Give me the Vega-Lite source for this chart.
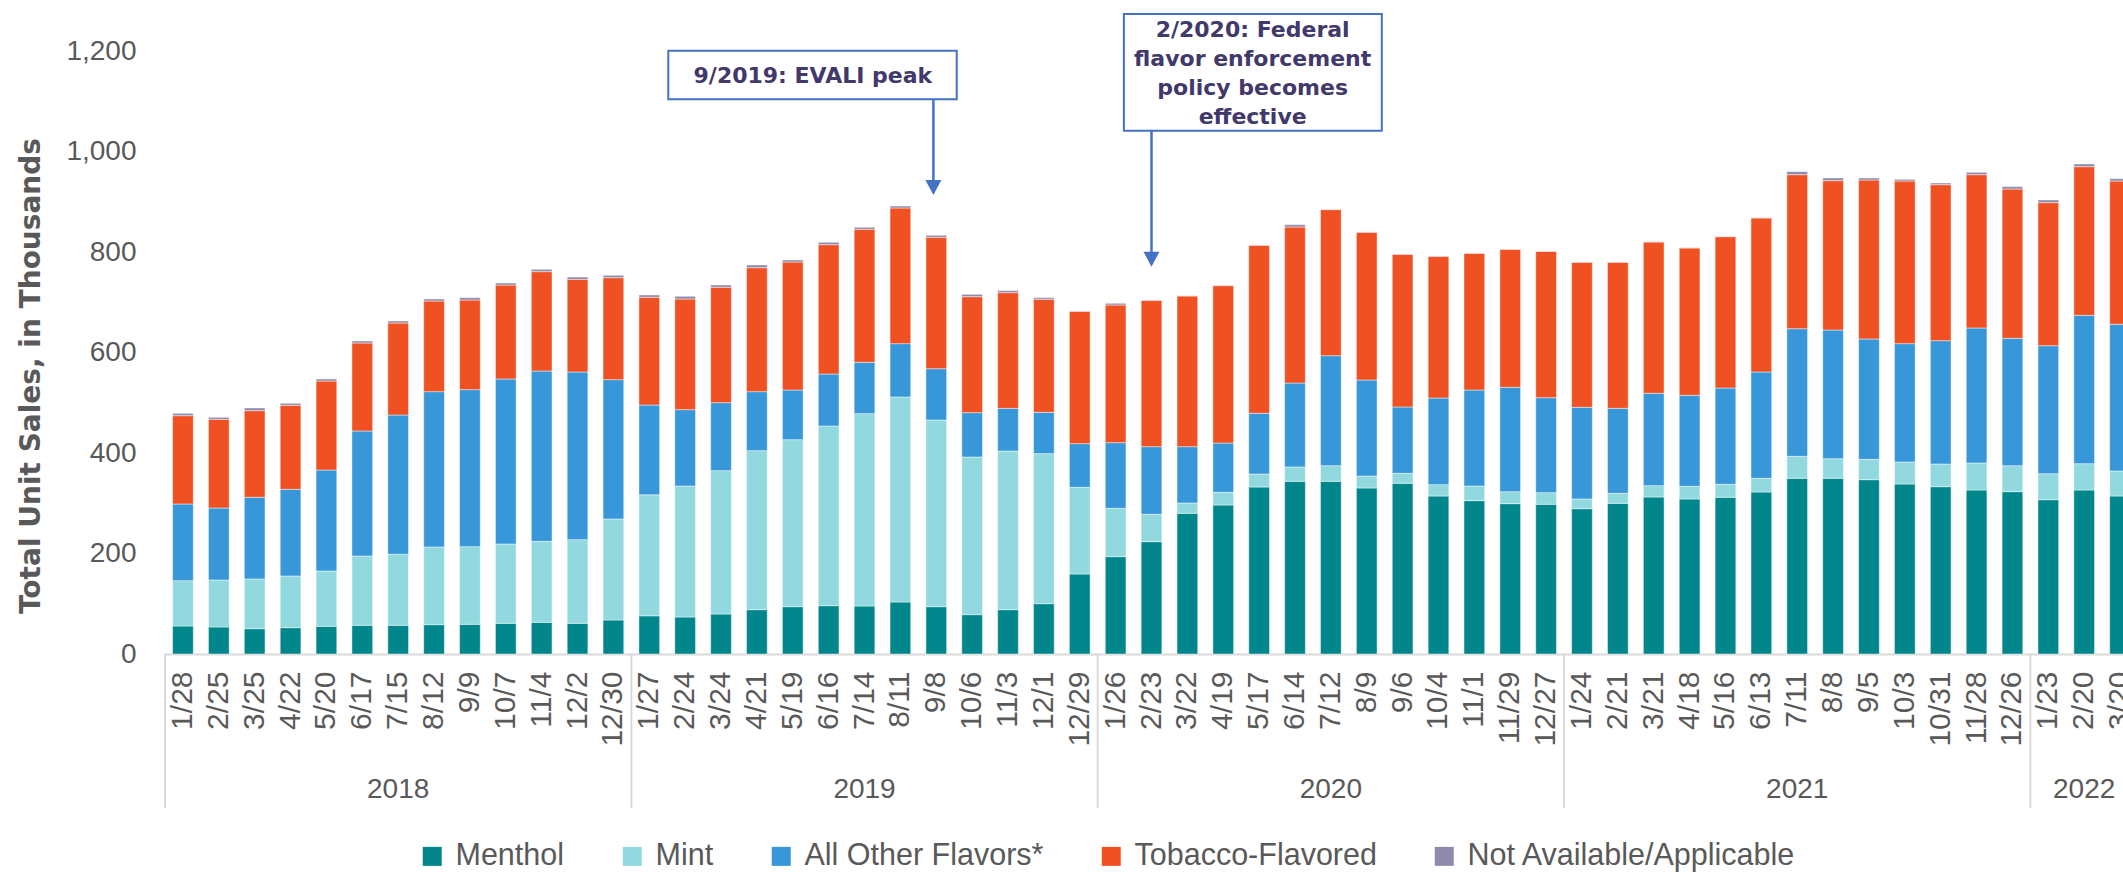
{
  "$schema": "https://vega.github.io/schema/vega-lite/v6.json",
  "usermeta": {"embedOptions": {"actions": false}},
  "autosize": {"type": "none"},
  "width": 1958,
  "height": 603,
  "padding": {"left": 165, "top": 51, "right": 0, "bottom": 218},
  "background": "white",
  "config": {"view": {"stroke": null}, "font": "Liberation Sans"},
  "datasets": {
    "sales": [
      {"week": "2018-01-28", "Menthol": 55.7, "Mint": 90.2, "All Other Flavors*": 152.6, "Tobacco-Flavored": 175.8, "Not Available/Applicable": 4.6},
      {"week": "2018-02-25", "Menthol": 53.8, "Mint": 93.5, "All Other Flavors*": 143.3, "Tobacco-Flavored": 176.4, "Not Available/Applicable": 4.0},
      {"week": "2018-03-25", "Menthol": 50.4, "Mint": 98.9, "All Other Flavors*": 162.5, "Tobacco-Flavored": 172.5, "Not Available/Applicable": 5.3},
      {"week": "2018-04-22", "Menthol": 52.4, "Mint": 102.8, "All Other Flavors*": 172.5, "Tobacco-Flavored": 167.2, "Not Available/Applicable": 4.0},
      {"week": "2018-05-20", "Menthol": 55.1, "Mint": 110.1, "All Other Flavors*": 201.0, "Tobacco-Flavored": 177.1, "Not Available/Applicable": 4.0},
      {"week": "2018-06-17", "Menthol": 57.1, "Mint": 137.9, "All Other Flavors*": 248.8, "Tobacco-Flavored": 175.1, "Not Available/Applicable": 4.0},
      {"week": "2018-07-15", "Menthol": 57.1, "Mint": 141.3, "All Other Flavors*": 277.2, "Tobacco-Flavored": 183.1, "Not Available/Applicable": 4.0},
      {"week": "2018-08-12", "Menthol": 58.4, "Mint": 154.6, "All Other Flavors*": 309.1, "Tobacco-Flavored": 180.4, "Not Available/Applicable": 4.0},
      {"week": "2018-09-09", "Menthol": 59.1, "Mint": 154.5, "All Other Flavors*": 312.5, "Tobacco-Flavored": 178.4, "Not Available/Applicable": 4.6},
      {"week": "2018-10-07", "Menthol": 61.1, "Mint": 157.8, "All Other Flavors*": 328.4, "Tobacco-Flavored": 187.0, "Not Available/Applicable": 4.0},
      {"week": "2018-11-04", "Menthol": 63.0, "Mint": 161.2, "All Other Flavors*": 339.0, "Tobacco-Flavored": 197.7, "Not Available/Applicable": 4.6},
      {"week": "2018-12-02", "Menthol": 61.1, "Mint": 166.5, "All Other Flavors*": 333.6, "Tobacco-Flavored": 184.4, "Not Available/Applicable": 4.6},
      {"week": "2018-12-30", "Menthol": 67.7, "Mint": 201.0, "All Other Flavors*": 277.3, "Tobacco-Flavored": 202.9, "Not Available/Applicable": 4.7},
      {"week": "2019-01-27", "Menthol": 76.0, "Mint": 240.8, "All Other Flavors*": 178.7, "Tobacco-Flavored": 214.4, "Not Available/Applicable": 4.5},
      {"week": "2019-02-24", "Menthol": 73.6, "Mint": 260.7, "All Other Flavors*": 152.0, "Tobacco-Flavored": 220.2, "Not Available/Applicable": 5.3},
      {"week": "2019-03-24", "Menthol": 79.6, "Mint": 285.3, "All Other Flavors*": 135.3, "Tobacco-Flavored": 229.5, "Not Available/Applicable": 4.6},
      {"week": "2019-04-21", "Menthol": 88.2, "Mint": 316.5, "All Other Flavors*": 117.4, "Tobacco-Flavored": 246.7, "Not Available/Applicable": 5.3},
      {"week": "2019-05-19", "Menthol": 94.2, "Mint": 332.4, "All Other Flavors*": 98.8, "Tobacco-Flavored": 254.7, "Not Available/Applicable": 4.0},
      {"week": "2019-06-16", "Menthol": 96.2, "Mint": 357.6, "All Other Flavors*": 103.4, "Tobacco-Flavored": 257.4, "Not Available/Applicable": 4.7},
      {"week": "2019-07-14", "Menthol": 95.5, "Mint": 382.8, "All Other Flavors*": 102.2, "Tobacco-Flavored": 264.6, "Not Available/Applicable": 4.0},
      {"week": "2019-08-11", "Menthol": 103.5, "Mint": 408.0, "All Other Flavors*": 106.1, "Tobacco-Flavored": 270.0, "Not Available/Applicable": 3.9},
      {"week": "2019-09-08", "Menthol": 94.2, "Mint": 371.5, "All Other Flavors*": 102.1, "Tobacco-Flavored": 261.4, "Not Available/Applicable": 4.0},
      {"week": "2019-10-06", "Menthol": 78.3, "Mint": 313.8, "All Other Flavors*": 88.2, "Tobacco-Flavored": 230.8, "Not Available/Applicable": 4.7},
      {"week": "2019-11-03", "Menthol": 88.2, "Mint": 315.8, "All Other Flavors*": 84.9, "Tobacco-Flavored": 230.2, "Not Available/Applicable": 4.0},
      {"week": "2019-12-01", "Menthol": 100.2, "Mint": 298.5, "All Other Flavors*": 82.2, "Tobacco-Flavored": 224.9, "Not Available/Applicable": 3.3},
      {"week": "2019-12-29", "Menthol": 159.2, "Mint": 172.5, "All Other Flavors*": 86.9, "Tobacco-Flavored": 263.3, "Not Available/Applicable": 0.8},
      {"week": "2020-01-26", "Menthol": 193.7, "Mint": 96.2, "All Other Flavors*": 130.7, "Tobacco-Flavored": 273.9, "Not Available/Applicable": 3.4},
      {"week": "2020-02-23", "Menthol": 223.6, "Mint": 54.4, "All Other Flavors*": 134.6, "Tobacco-Flavored": 291.2, "Not Available/Applicable": 0.7},
      {"week": "2020-03-22", "Menthol": 279.9, "Mint": 20.6, "All Other Flavors*": 112.1, "Tobacco-Flavored": 299.9, "Not Available/Applicable": 0.6},
      {"week": "2020-04-19", "Menthol": 296.5, "Mint": 25.2, "All Other Flavors*": 98.2, "Tobacco-Flavored": 313.1, "Not Available/Applicable": 1.0},
      {"week": "2020-05-17", "Menthol": 332.4, "Mint": 25.8, "All Other Flavors*": 120.8, "Tobacco-Flavored": 334.3, "Not Available/Applicable": 0.8},
      {"week": "2020-06-14", "Menthol": 343.6, "Mint": 28.6, "All Other Flavors*": 167.1, "Tobacco-Flavored": 310.5, "Not Available/Applicable": 4.6},
      {"week": "2020-07-12", "Menthol": 343.6, "Mint": 31.2, "All Other Flavors*": 218.9, "Tobacco-Flavored": 290.6, "Not Available/Applicable": 0.7},
      {"week": "2020-08-09", "Menthol": 330.4, "Mint": 23.8, "All Other Flavors*": 191.1, "Tobacco-Flavored": 293.9, "Not Available/Applicable": 0.7},
      {"week": "2020-09-06", "Menthol": 339.7, "Mint": 19.8, "All Other Flavors*": 132.1, "Tobacco-Flavored": 303.8, "Not Available/Applicable": 0.6},
      {"week": "2020-10-04", "Menthol": 314.4, "Mint": 22.6, "All Other Flavors*": 172.5, "Tobacco-Flavored": 281.9, "Not Available/Applicable": 0.6},
      {"week": "2020-11-01", "Menthol": 305.2, "Mint": 29.1, "All Other Flavors*": 191.1, "Tobacco-Flavored": 272.0, "Not Available/Applicable": 0.6},
      {"week": "2020-11-29", "Menthol": 299.2, "Mint": 23.9, "All Other Flavors*": 207.6, "Tobacco-Flavored": 274.6, "Not Available/Applicable": 0.6},
      {"week": "2020-12-27", "Menthol": 297.9, "Mint": 23.2, "All Other Flavors*": 189.0, "Tobacco-Flavored": 291.2, "Not Available/Applicable": 0.6},
      {"week": "2021-01-24", "Menthol": 289.2, "Mint": 19.3, "All Other Flavors*": 182.4, "Tobacco-Flavored": 288.6, "Not Available/Applicable": 0.6},
      {"week": "2021-02-21", "Menthol": 299.8, "Mint": 19.9, "All Other Flavors*": 169.2, "Tobacco-Flavored": 290.6, "Not Available/Applicable": 0.6},
      {"week": "2021-03-21", "Menthol": 312.5, "Mint": 22.5, "All Other Flavors*": 183.8, "Tobacco-Flavored": 301.1, "Not Available/Applicable": 0.6},
      {"week": "2021-04-18", "Menthol": 308.5, "Mint": 25.2, "All Other Flavors*": 181.1, "Tobacco-Flavored": 293.2, "Not Available/Applicable": 0.6},
      {"week": "2021-05-16", "Menthol": 311.8, "Mint": 25.9, "All Other Flavors*": 191.7, "Tobacco-Flavored": 301.1, "Not Available/Applicable": 0.6},
      {"week": "2021-06-13", "Menthol": 322.4, "Mint": 27.2, "All Other Flavors*": 211.6, "Tobacco-Flavored": 306.5, "Not Available/Applicable": 0.6},
      {"week": "2021-07-11", "Menthol": 349.6, "Mint": 43.8, "All Other Flavors*": 254.0, "Tobacco-Flavored": 306.5, "Not Available/Applicable": 6.0},
      {"week": "2021-08-08", "Menthol": 349.6, "Mint": 39.1, "All Other Flavors*": 256.1, "Tobacco-Flavored": 297.2, "Not Available/Applicable": 5.3},
      {"week": "2021-09-05", "Menthol": 346.9, "Mint": 40.5, "All Other Flavors*": 239.5, "Tobacco-Flavored": 316.4, "Not Available/Applicable": 4.0},
      {"week": "2021-10-03", "Menthol": 338.3, "Mint": 43.8, "All Other Flavors*": 235.5, "Tobacco-Flavored": 323.7, "Not Available/Applicable": 3.3},
      {"week": "2021-10-31", "Menthol": 333.0, "Mint": 45.1, "All Other Flavors*": 245.5, "Tobacco-Flavored": 310.4, "Not Available/Applicable": 3.3},
      {"week": "2021-11-28", "Menthol": 326.4, "Mint": 53.7, "All Other Flavors*": 268.7, "Tobacco-Flavored": 305.1, "Not Available/Applicable": 4.7},
      {"week": "2021-12-26", "Menthol": 323.1, "Mint": 51.7, "All Other Flavors*": 253.4, "Tobacco-Flavored": 297.2, "Not Available/Applicable": 4.7},
      {"week": "2022-01-23", "Menthol": 307.1, "Mint": 51.8, "All Other Flavors*": 254.7, "Tobacco-Flavored": 284.6, "Not Available/Applicable": 5.3},
      {"week": "2022-02-20", "Menthol": 326.4, "Mint": 52.4, "All Other Flavors*": 295.2, "Tobacco-Flavored": 295.8, "Not Available/Applicable": 5.3},
      {"week": "2022-03-20", "Menthol": 314.4, "Mint": 49.8, "All Other Flavors*": 291.9, "Tobacco-Flavored": 285.2, "Not Available/Applicable": 4.6}
    ],
    "years": [
      {"year": "2018", "first": "2018-01-28", "mid": "2018-07-15"},
      {"year": "2019", "first": "2019-01-27", "mid": "2019-07-14"},
      {"year": "2020", "first": "2020-01-26", "mid": "2020-07-12"},
      {"year": "2021", "first": "2021-01-24", "mid": "2021-07-11"},
      {"year": "2022", "first": "2022-01-23", "mid": "2022-02-20"}
    ],
    "flavors": [
      {"flavor": "Menthol", "rank": 1},
      {"flavor": "Mint", "rank": 2},
      {"flavor": "All Other Flavors*", "rank": 3},
      {"flavor": "Tobacco-Flavored", "rank": 4},
      {"flavor": "Not Available/Applicable", "rank": 5}
    ]
  },
  "layer": [
    {
      "layer": [
        {
          "data": {"name": "sales"},
          "transform": [
            {"fold": ["Menthol", "Mint", "All Other Flavors*", "Tobacco-Flavored", "Not Available/Applicable"], "as": ["flavor", "sales"]},
            {"lookup": "flavor", "from": {"data": {"name": "flavors"}, "key": "flavor", "fields": ["rank"]}}
          ],
          "mark": {"type": "bar", "stroke": "white", "strokeWidth": 1, "strokeOpacity": 0.45},
          "encoding": {
            "x": {
              "field": "week", "type": "ordinal",
              "scale": {"range": [0, 1973], "paddingInner": 0.423, "paddingOuter": 0.2115},
              "axis": {
                "title": null, "labelAngle": -90,
                "labelExpr": "toNumber(substring(datum.value, 5, 7)) + '/' + toNumber(substring(datum.value, 8, 10))",
                "labelFont": "Liberation Sans", "labelFontSize": 30, "labelColor": "#595959",
                "labelPadding": 17, "ticks": false, "domainColor": "#D9D9D9", "domainWidth": 2,
                "labelOverlap": false, "labelFlush": false, "labelBound": false, "grid": false
              }
            },
            "y": {
              "field": "sales", "type": "quantitative", "stack": "zero",
              "scale": {"domain": [0, 1200], "nice": false},
              "axis": {
                "title": "Total Unit Sales, in Thousands",
                "titleFont": "DejaVu Sans", "titleFontWeight": "bold", "titleFontSize": 28, "titleColor": "#595959",
                "titleAngle": -90, "titleAlign": "center", "titleBaseline": "middle",
                "titleX": -134, "titleY": 324.5,
                "values": [0, 200, 400, 600, 800, 1000, 1200], "format": ",d",
                "labelFont": "Liberation Sans", "labelFontSize": 28, "labelColor": "#595959",
                "labelPadding": 29, "ticks": false, "domain": false, "grid": false
              }
            },
            "color": {
              "field": "flavor", "type": "nominal",
              "sort": ["Menthol", "Mint", "All Other Flavors*", "Tobacco-Flavored", "Not Available/Applicable"],
              "scale": {
                "domain": ["Menthol", "Mint", "All Other Flavors*", "Tobacco-Flavored", "Not Available/Applicable"],
                "range": ["#00868B", "#92D9DF", "#3897D9", "#F05123", "#8E8AAB"]
              },
              "legend": {
                "orient": "none", "legendX": 252, "legendY": 790, "direction": "horizontal", "title": null,
                "symbolType": "square", "symbolSize": 361, "symbolStrokeWidth": 0,
                "labelFont": "Liberation Sans", "labelFontSize": 30.5, "labelColor": "#595959",
                "labelOffset": 8, "columnPadding": 52, "labelLimit": 0, "padding": 0
              }
            },
            "order": {"field": "rank", "type": "quantitative"}
          }
        },
        {
          "data": {"name": "years"},
          "mark": {"type": "rule", "color": "#D9D9D9", "strokeWidth": 2, "xOffset": -17.94, "y2Offset": 154},
          "encoding": {
            "x": {"field": "first", "type": "ordinal"},
            "y": {"datum": 0, "type": "quantitative", "scale": {"domain": [0, 1200], "nice": false}},
            "y2": {"datum": 0}
          }
        },
        {
          "data": {"name": "years"},
          "mark": {"type": "text", "font": "Liberation Sans", "fontSize": 28, "color": "#595959", "dy": 136, "baseline": "middle", "align": "center"},
          "encoding": {
            "x": {"field": "mid", "type": "ordinal"},
            "y": {"datum": 0, "type": "quantitative", "scale": {"domain": [0, 1200], "nice": false}},
            "text": {"field": "year"}
          }
        }
      ]
    },
    {
      "data": {"values": [{}]},
      "layer": [
        {
          "mark": {"type": "rect", "fill": "white", "stroke": "#4472C4", "strokeWidth": 2},
          "encoding": {
            "x": {"datum": 14.03, "type": "quantitative", "scale": {"domain": [0, 55], "range": [0, 1973]}, "axis": null},
            "x2": {"datum": 22.07},
            "y": {"datum": 1103.9, "type": "quantitative", "scale": {"domain": [0, 1200], "nice": false}},
            "y2": {"datum": 1200.6}
          }
        },
        {
          "mark": {"type": "rect", "fill": "white", "stroke": "#4472C4", "strokeWidth": 2},
          "encoding": {
            "x": {"datum": 26.73, "type": "quantitative", "scale": {"domain": [0, 55], "range": [0, 1973]}, "axis": null},
            "x2": {"datum": 33.92},
            "y": {"datum": 1041.4, "type": "quantitative", "scale": {"domain": [0, 1200], "nice": false}},
            "y2": {"datum": 1273.6}
          }
        },
        {
          "mark": {"type": "text", "text": "9/2019: EVALI peak", "font": "DejaVu Sans", "fontWeight": "bold", "fontSize": 22, "color": "#41386B", "align": "center", "baseline": "middle"},
          "encoding": {
            "x": {"datum": 18.06, "type": "quantitative", "scale": {"domain": [0, 55], "range": [0, 1973]}, "axis": null},
            "y": {"datum": 1149.3, "type": "quantitative", "scale": {"domain": [0, 1200], "nice": false}}
          }
        },
        {
          "mark": {"type": "text", "text": ["2/2020: Federal", "flavor enforcement", "policy becomes", "effective"], "lineHeight": 29, "font": "DejaVu Sans", "fontWeight": "bold", "fontSize": 22, "color": "#41386B", "align": "center", "baseline": "middle"},
          "encoding": {
            "x": {"datum": 30.32, "type": "quantitative", "scale": {"domain": [0, 55], "range": [0, 1973]}, "axis": null},
            "y": {"datum": 1241.8, "type": "quantitative", "scale": {"domain": [0, 1200], "nice": false}}
          }
        },
        {
          "mark": {"type": "rule", "color": "#4472C4", "strokeWidth": 2.5},
          "encoding": {
            "x": {"datum": 21.42, "type": "quantitative", "scale": {"domain": [0, 55], "range": [0, 1973]}, "axis": null},
            "y": {"datum": 1103.9, "type": "quantitative", "scale": {"domain": [0, 1200], "nice": false}},
            "y2": {"datum": 940}
          }
        },
        {
          "mark": {"type": "rule", "color": "#4472C4", "strokeWidth": 2.5},
          "encoding": {
            "x": {"datum": 27.5, "type": "quantitative", "scale": {"domain": [0, 55], "range": [0, 1973]}, "axis": null},
            "y": {"datum": 1041.4, "type": "quantitative", "scale": {"domain": [0, 1200], "nice": false}},
            "y2": {"datum": 797}
          }
        },
        {
          "mark": {"type": "point", "shape": "M-1,-0.94L1,-0.94L0,0.94Z", "size": 256, "filled": true, "color": "#4472C4", "opacity": 1},
          "encoding": {
            "x": {"datum": 21.42, "type": "quantitative", "scale": {"domain": [0, 55], "range": [0, 1973]}, "axis": null},
            "y": {"datum": 928.4, "type": "quantitative", "scale": {"domain": [0, 1200], "nice": false}}
          }
        },
        {
          "mark": {"type": "point", "shape": "M-1,-0.94L1,-0.94L0,0.94Z", "size": 256, "filled": true, "color": "#4472C4", "opacity": 1},
          "encoding": {
            "x": {"datum": 27.5, "type": "quantitative", "scale": {"domain": [0, 55], "range": [0, 1973]}, "axis": null},
            "y": {"datum": 785.7, "type": "quantitative", "scale": {"domain": [0, 1200], "nice": false}}
          }
        }
      ]
    }
  ],
  "resolve": {"scale": {"x": "independent"}}
}
